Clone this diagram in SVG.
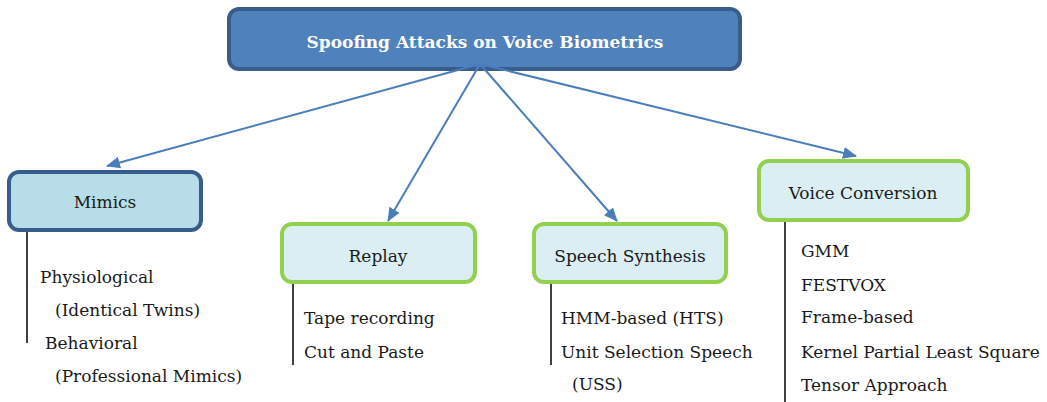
<svg xmlns="http://www.w3.org/2000/svg" width="1047" height="402" viewBox="0 0 1047 402">
  <style>
    .root rect { fill: #4f81bd; stroke: #385d8a; stroke-width: 4; }
    .root text { fill: #ffffff; font-weight: bold; font-size: 17px; }
    .blue rect { fill: #b7dde8; stroke: #385d8a; stroke-width: 4; }
    .green rect { fill: #daeef3; stroke: #92d050; stroke-width: 4; }
    text { font-family: "DejaVu Serif", "Liberation Serif", serif; font-size: 17px; fill: #1a1a1a; }
    .label { text-anchor: middle; }
    .stem { stroke: #000000; stroke-width: 1.5; }
    .conn line { stroke: #4a7ebb; stroke-width: 2; }
  </style>
  <defs>
    <marker id="arrow" markerUnits="userSpaceOnUse" markerWidth="14" markerHeight="12" refX="13" refY="6" orient="auto">
      <path d="M0,0 L14,6 L0,12 z" fill="#4a7ebb"/>
    </marker>
  </defs>

  <!-- root node -->
  <g id="node-root" class="root">
    <rect x="229" y="9" width="511" height="60" rx="10"/>
    <text class="label" x="485" y="48">Spoofing Attacks on Voice Biometrics</text>
  </g>

  <!-- connectors from the root to each category -->
  <g id="connectors" class="conn">
    <line x1="480" y1="64" x2="107" y2="166" marker-end="url(#arrow)"/>
    <line x1="480" y1="64" x2="388" y2="221" marker-end="url(#arrow)"/>
    <line x1="480" y1="64" x2="617" y2="221" marker-end="url(#arrow)"/>
    <line x1="480" y1="64" x2="856" y2="156" marker-end="url(#arrow)"/>
  </g>

  <g id="node-mimics" class="blue">
    <rect x="9" y="172" width="192" height="58" rx="10"/>
    <text class="label" x="105" y="208">Mimics</text>
    <line class="stem" x1="27" y1="232" x2="27" y2="343"/>
    <text x="40" y="283">Physiological</text>
    <text x="55" y="316">(Identical Twins)</text>
    <text x="45" y="349">Behavioral</text>
    <text x="55" y="382">(Professional Mimics)</text>
  </g>

  <g id="node-replay" class="green">
    <rect x="282" y="224" width="193" height="58" rx="10"/>
    <text class="label" x="378" y="262">Replay</text>
    <line class="stem" x1="293" y1="284" x2="293" y2="365"/>
    <text x="304" y="324">Tape recording</text>
    <text x="304" y="358">Cut and Paste</text>
  </g>

  <g id="node-synthesis" class="green">
    <rect x="534" y="224" width="192" height="58" rx="10"/>
    <text class="label" x="630" y="262">Speech Synthesis</text>
    <line class="stem" x1="551" y1="284" x2="551" y2="365"/>
    <text x="561" y="324">HMM-based (HTS)</text>
    <text x="561" y="358">Unit Selection Speech</text>
    <text x="572" y="390">(USS)</text>
  </g>

  <g id="node-conversion" class="green">
    <rect x="759" y="161" width="209" height="59" rx="10"/>
    <text class="label" x="863" y="199">Voice Conversion</text>
    <line class="stem" x1="785" y1="222" x2="785" y2="402"/>
    <text x="801" y="257">GMM</text>
    <text x="801" y="291">FESTVOX</text>
    <text x="801" y="323">Frame-based</text>
    <text x="801" y="358">Kernel Partial Least Square</text>
    <text x="801" y="391">Tensor Approach</text>
  </g>
</svg>
